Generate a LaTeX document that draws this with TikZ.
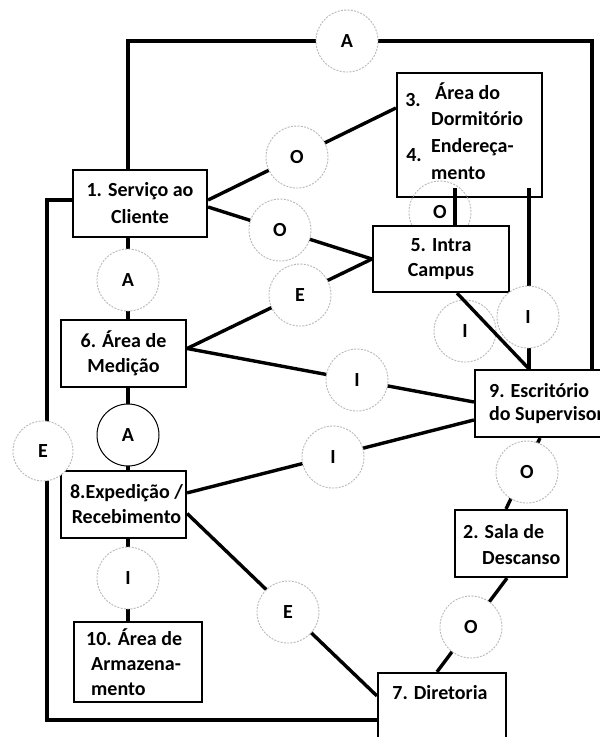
\documentclass[tikz,border=0pt]{standalone}
\usepackage{fontspec}
\setmainfont{Carlito}
\usetikzlibrary{calc}
\newcommand\lbl{\fontsize{20}{25}\selectfont\bfseries}
\begin{document}
\begin{tikzpicture}[x=1pt,y=-1pt,
  box/.style={draw, line width=2.2pt, fill=white, inner sep=0pt, align=center, font=\lbl},
  txt/.style={inner sep=0pt, font=\lbl},
  link/.style={line width=3.4pt},
  rel/.style={circle, draw=black!28, dash pattern=on 2pt off 1.3pt, line width=0.9pt,
              fill=white, minimum size=62pt, inner sep=0pt, font=\lbl},
  relsolid/.style={circle, draw=black, line width=1pt, fill=white,
              minimum size=62pt, inner sep=0pt, font=\lbl}]
\useasboundingbox (0,0) rectangle (600,737);
\clip (0,0) rectangle (600,737);

% --- departments ---
\node[box, minimum width=145pt, minimum height=124pt] (n34) at (469.5,135) {};
\node[txt] (t3) at (413,100) {3.};
\node[txt] (t4) at (414,155) {4.};
\node[txt, anchor=west, align=left, font={\fontsize{20}{26.7}\selectfont\bfseries}] (t34) at (431,131)
  {\hspace*{4pt}Área do\\Dormitório\\Endereça-\\mento};
\node[rel, fill=none] (O3) at (440,212) {O};

\node[box, minimum width=134pt, minimum height=67pt, font={\fontsize{20}{27}\selectfont\bfseries}]
  (n1) at (140,203.5) {1. Serviço ao\\Cliente};
\node[box, minimum width=136pt, minimum height=66pt] (n5) at (441,259) {5. Intra\\Campus};
\node[box, minimum width=125pt, minimum height=67pt] (n6) at (123.5,353.5) {6. Área de\\Medição};
\node[box, minimum width=140pt, minimum height=67pt] (n9) at (545,403.5) {};
\node[txt, anchor=west, align=left, font={\fontsize{20}{23}\selectfont\bfseries}]
  (t9) at (489,404) {9. Escritório\\do Supervisor};
\node[box, minimum width=125pt, minimum height=67pt] (n8) at (123.5,504.5) {\hspace*{6pt}8.Expedição /\\\hspace*{6pt}Recebimento};
\node[box, minimum width=128pt, minimum height=80pt] (n10) at (138,662) {};
\node[txt, anchor=west, align=left] (t10) at (91,662) {\hspace*{-5pt}10. Área de\\Armazena-\\mento};
\node[box, minimum width=112pt, minimum height=67pt] (n2) at (511,543.5) {};
\node[txt, anchor=west, align=left, font={\fontsize{20}{26}\selectfont\bfseries}]
  (t2) at (463,545) {2. Sala de\\\hspace*{19pt}Descanso};
\node[box, minimum width=128pt, minimum height=87pt] (n7) at (442,716.5) {};
\node[txt] (t7) at (440,693) {7. Diretoria};

% --- relationship lines ---
\coordinate (tr) at (592,41);
\coordinate (bl) at (47,720);
\draw[link] ($(n1.north)+(-12,0)$) |- (tr) -- ($(n9.north)+(47,0)$);
\draw[link] ($(n1.west)+(0,-3.5)$) -| (bl) -- (n7.west |- bl);
\draw[link] ($(n1.east)+(0,-3.5)$) -- ($(n34.west)+(0,-27)$);
\draw[link] ($(n1.east)+(0,3.5)$) -- (n5.west);
\draw[link] ($(n6.east)+(0,-5)$) -- (n5.west);
\draw[link] ($(n6.east)+(0,-5)$) -- ($(n9.west)+(0,-1.5)$);
\draw[link] ($(n8.north east)+(0,23)$) -- ($(n9.west)+(0,16.5)$);
\draw[link] ($(n8.east)+(0,9)$) -- ($(n7.north west)+(0,24)$);
\draw[link] ($(n9.south)+(-5,0)$) -- ($(n2.north)+(-5,0)$);
\draw[link] ($(n2.south)+(-4,0)$) -- ($(n7.north)+(-5,0)$);
\draw[link] ($(n1.south)+(-12,0)$) -- ($(n6.north)+(4.5,0)$);
\draw[link] ($(n6.south)+(4.5,0)$) -- ($(n8.north)+(4.5,0)$);
\draw[link] ($(n8.south)+(4.5,0)$) -- ($(n10.north)+(-10,0)$);
\draw[link] ($(n34.south)+(59.5,-10)$) -- ($(n9.north)+(-16,0)$);

% --- closeness ratings ---
\node[rel] (A1) at (347,41) {A};
\node[rel] (O1) at (297,157) {O};
\node[rel] (O2) at (280,230) {O};
\node[rel] (A2) at (128,280) {A};
\node[rel] (E1) at (300,295) {E};
\node[rel] (I1) at (465,331) {I};
\node[rel] (I2) at (528,317) {I};
\node[rel] (I3) at (357,380) {I};
\node[relsolid] (A3) at (128,435) {A};
\node[rel, minimum size=60pt] (E2) at (43,451) {E};
\node[rel] (I4) at (333,457) {I};
\node[rel] (O4) at (527,472) {O};
\node[rel] (I5) at (128,578) {I};
\node[rel] (E3) at (288,612) {E};
\node[rel] (O5) at (471,627) {O};

% --- lines lying over the ratings ---
\draw[link] ($(n34.south)+(-14.5,-10)$) -- ($(n5.north)+(14,0)$);
\draw[link] ($(n5.south)+(16,0)$) -- ($(n9.north)+(-16,0)$);
\end{tikzpicture}
\end{document}
